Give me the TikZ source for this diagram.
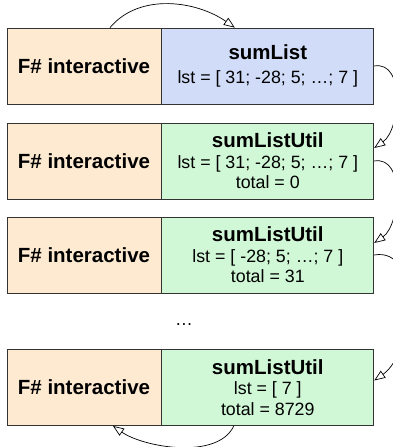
\documentclass[tikz,border=0pt]{standalone}
\usepackage{fontspec}
\setmainfont{Liberation Sans}
\usetikzlibrary{arrows.meta,positioning}
\definecolor{hostfill}{RGB}{253,234,209}
\definecolor{mainfill}{RGB}{209,220,248}
\definecolor{utilfill}{RGB}{208,248,214}
\tikzset{
  host/.style={draw=black!80,fill=hostfill,minimum width=154pt,minimum height=76pt,
    inner sep=0pt,font=\bfseries\fontsize{20.5}{22}\selectfont},
  frame/.style={draw=black!80,minimum width=212pt,minimum height=76pt,inner sep=0pt,
    align=center,font=\fontsize{17.8}{20.5}\selectfont},
  call/.style={-{Triangle[open,length=11pt,width=8.5pt]},line width=0.7pt},
  every node/.style={line width=0.8pt}
}
\newcommand{\fname}[1]{{\bfseries\fontsize{20.5}{20.5}\selectfont #1}}

\begin{document}
\begin{tikzpicture}[x=1pt,y=1pt]
  \useasboundingbox (0,0) rectangle (393,-447);
  % stack frames
  \node[host] (h1) at (84,-66) {F\# interactive};
  \node[frame,fill=mainfill,right=0pt of h1] (f1) {\fname{sumList}\\[3.5pt] lst = [ 31; -28; 5; …; 7 ]};
  \node[host] (h2) at (84,-161) {F\# interactive};
  \node[frame,fill=utilfill,right=0pt of h2] (f2) {\fname{sumListUtil}\\ lst = [ 31; -28; 5; …; 7 ]\\ total = 0};
  \node[host] (h3) at (84,-255) {F\# interactive};
  \node[frame,fill=utilfill,right=0pt of h3] (f3) {\fname{sumListUtil}\\ lst = [ -28; 5; …; 7 ]\\ total = 31};
  \node (gap) at (184,-325) {\fontsize{17.8}{20}\selectfont …};
  \node[host] (h4) at (84,-387.5) {F\# interactive};
  \node[frame,fill=utilfill,right=0pt of h4] (f4) {\fname{sumListUtil}\\ lst = [ 7 ]\\ total = 8729};
  % calls
  \draw[call] ([xshift=26pt]h1.north) to[out=50,in=145,looseness=0.95] ([xshift=-33pt]f1.north);
  \draw[call] (f1.east) to[out=10,in=35] ([yshift=13pt]f2.east);
  \draw[call] (f2.east) to[out=10,in=35] ([yshift=12pt]f3.east);
  \draw[call] (f3.east) to[out=10,in=35] ([yshift=7pt]f4.east);
  % return
  \draw[call] ([xshift=-34pt]f4.south) to[out=-115,in=-35,looseness=0.8] ([xshift=29pt]h4.south);
\end{tikzpicture}
\end{document}
